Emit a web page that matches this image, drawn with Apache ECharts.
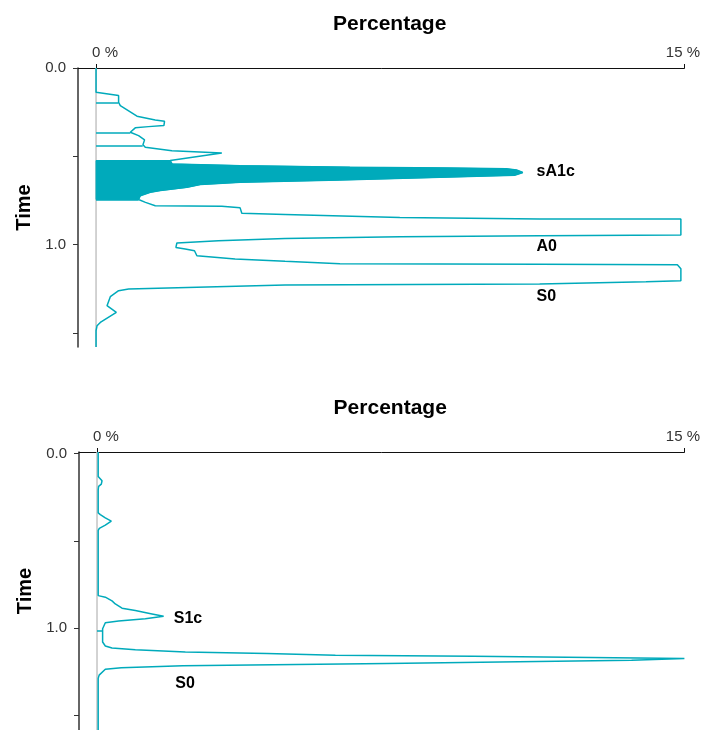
<!DOCTYPE html>
<html>
<head>
<meta charset="utf-8">
<title>Percentage by time</title>
<script src="https://cdn.jsdelivr.net/npm/echarts@6/dist/echarts.min.js"></script>
<style>
  html, body { margin: 0; padding: 0; background: #fff; }
  #chart { width: 703px; height: 730px; }
</style>
</head>
<body>
<div id="chart"></div>
<script>
// ---- values ----------------------------------------------------------
// Axis ticks
const pctTicks = [0, 15];
const pctTickLabels = ['0 %', '15 %'];
const timeTicks = [0, 0.5, 1.0, 1.5];
const timeLabelValues = [0, 1.0];

// Upper trace: [percentage, time]
const topTrace = [
  [0, 0], [0, 0.137], [0.575, 0.156], [0.575, 0.194], [0.618, 0.213],
  [1.044, 0.273], [1.509, 0.294], [1.746, 0.302], [1.730, 0.326], [1.339, 0.332],
  [1.000, 0.339], [0.873, 0.364], [1.084, 0.383], [1.237, 0.407], [1.196, 0.434],
  [1.190, 0.439], [1.255, 0.449], [1.934, 0.468], [3.207, 0.481], [1.891, 0.524],
  [1.940, 0.544], [3.673, 0.553], [6.473, 0.562], [9.018, 0.567], [10.46, 0.571],
  [10.72, 0.578], [10.88, 0.592], [10.67, 0.607], [8.760, 0.619], [6.218, 0.634],
  [3.673, 0.647], [2.655, 0.660], [2.316, 0.676], [1.637, 0.694], [1.382, 0.704],
  [1.128, 0.723], [1.084, 0.745], [1.260, 0.761], [1.509, 0.780], [3.207, 0.783],
  [3.673, 0.792], [3.716, 0.823], [4.818, 0.830], [7.745, 0.846], [11.31, 0.855],
  [14.91, 0.855], [14.91, 0.946], [11.31, 0.950], [7.745, 0.955], [4.818, 0.965],
  [3.120, 0.978], [2.061, 0.991], [2.036, 1.016], [2.273, 1.025], [2.510, 1.035],
  [2.571, 1.063], [3.545, 1.082], [4.818, 1.095], [6.218, 1.108], [11.31, 1.112],
  [14.82, 1.114], [14.91, 1.137], [14.91, 1.205], [14.02, 1.210], [11.31, 1.223],
  [4.818, 1.229], [0.830, 1.252], [0.575, 1.261], [0.364, 1.295], [0.280, 1.346],
  [0.517, 1.384], [0.109, 1.441], [0.025, 1.460], [0, 1.488], [0, 1.58]
];
const sA1cWindow = [0.524, 0.745];            // filled sA1c region (time)
const topDropTimes = [0.194, 0.364, 0.439, 0.524, 0.745];
const topPeakNames = ['sA1c', 'A0', 'S0'];

// Lower trace: [percentage, time]
const bottomTrace = [
  [0.03, -0.01], [0.03, 0.130], [0.128, 0.155], [0.110, 0.174], [0.041, 0.187],
  [0.03, 0.206], [0.03, 0.339], [0.084, 0.349], [0.212, 0.368], [0.365, 0.387],
  [0.212, 0.410], [0.059, 0.428], [0.03, 0.440], [0.03, 0.814], [0.212, 0.823],
  [0.383, 0.844], [0.467, 0.862], [0.639, 0.886], [0.978, 0.900], [1.405, 0.919],
  [1.701, 0.932], [1.234, 0.947], [0.552, 0.960], [0.212, 0.970], [0.143, 1.004],
  [0.143, 1.080], [0.212, 1.103], [0.383, 1.114], [0.978, 1.125], [2.255, 1.137],
  [4.340, 1.146], [6.087, 1.156], [9.610, 1.162], [15.0, 1.175], [13.65, 1.185],
  [7.400, 1.203], [2.190, 1.217], [0.620, 1.228], [0.212, 1.236], [0.054, 1.270],
  [0.03, 1.289], [0.03, 1.60]
];
const bottomDropTimes = [1.014];
const bottomPeakNames = ['S1c', 'S0'];

// ---- styling / layout -------------------------------------------------
const TEAL = '#00aabb';
const FONT = '"Liberation Sans", Arial, Helvetica, sans-serif';
const PCT_MIN = -0.46, PCT_MAX = 15;

// where each peak name sits, as [percentage, time]
const topLabelAnchors = [[11.23, 0.584], [11.23, 1.011], [11.23, 1.295]];
const bottomLabelAnchors = [[1.96, 0.945], [2.0, 1.317]];

const panels = [
  { left: 78, top: 68, width: 607, height: 279, tMin: 0, tMax: 1.58 },
  { left: 79, top: 452, width: 606, height: 280, tMin: -0.01, tMax: 1.585 }
];

// percentage on the trace at a given time (linear between samples)
function pctAt(trace, t) {
  for (let i = 1; i < trace.length; i++) {
    const [p0, t0] = trace[i - 1], [p1, t1] = trace[i];
    if (t >= t0 && t <= t1) {
      return t1 === t0 ? p1 : p0 + (p1 - p0) * (t - t0) / (t1 - t0);
    }
  }
  return 0;
}

function dropLines(trace, times) {
  return times.map(t => [{ coord: [0, t] }, { coord: [pctAt(trace, t), t] }]);
}

function xAxisFor(g) {
  return {
    type: 'value', gridIndex: g, position: 'top', min: PCT_MIN, max: PCT_MAX,
    name: 'Percentage', nameLocation: 'middle', nameGap: 33,
    nameTextStyle: { fontFamily: FONT, fontWeight: 'bold', fontSize: 21, color: '#000', padding: [0, 0, 0, 17] },
    axisLine: { show: true, onZero: false, lineStyle: { color: '#111', width: 1 } },
    axisTick: { show: true, customValues: pctTicks, length: 4, lineStyle: { color: '#111', width: 1 } },
    axisLabel: {
      customValues: pctTicks, margin: 8,
      formatter: v => v === pctTicks[0] ? '{z|' + pctTickLabels[0] + '}' : '{f|' + pctTickLabels[1] + '}',
      rich: {
        z: { fontFamily: FONT, fontSize: 15, color: '#333', padding: [0, 0, 0, 18] },
        f: { fontFamily: FONT, fontSize: 15, color: '#333', padding: [0, 3, 0, 0] }
      }
    },
    splitLine: { show: false }
  };
}

function yAxisFor(g) {
  const p = panels[g];
  return {
    type: 'value', gridIndex: g, inverse: true, min: p.tMin, max: p.tMax,
    name: 'Time', nameLocation: 'middle', nameGap: 43, nameRotate: 90,
    nameTextStyle: { fontFamily: FONT, fontWeight: 'bold', fontSize: 20, color: '#000' },
    axisLine: { show: true, onZero: false, lineStyle: { color: '#333', width: 1.5 } },
    axisTick: { show: true, customValues: timeTicks, length: 5, lineStyle: { color: '#333', width: 1 } },
    axisLabel: {
      customValues: timeLabelValues, margin: 12,
      formatter: v => v.toFixed(1),
      fontFamily: FONT, fontSize: 15, color: '#333'
    },
    splitLine: { show: false }
  };
}

function baselineSeries(g) {
  const p = panels[g];
  return {
    type: 'line', xAxisIndex: g, yAxisIndex: g, z: 1, silent: true,
    symbol: 'none', data: [[0, p.tMin], [0, p.tMax]],
    lineStyle: { color: '#c4c4c4', width: 1.5 }
  };
}

function traceSeries(g, trace, drops) {
  return {
    type: 'line', xAxisIndex: g, yAxisIndex: g, z: 3, silent: true,
    symbol: 'none', showSymbol: false, data: trace,
    lineStyle: { color: TEAL, width: 1.5 },
    markLine: {
      silent: true, symbol: 'none', label: { show: false },
      lineStyle: { color: TEAL, width: 1.5, type: 'solid' },
      data: dropLines(trace, drops)
    }
  };
}

function peakLabelSeries(g, names, anchors) {
  return {
    type: 'scatter', xAxisIndex: g, yAxisIndex: g, z: 4, silent: true,
    symbolSize: 0,
    itemStyle: { opacity: 1 },
    data: names.map((n, i) => ({ name: n, value: anchors[i] })),
    label: {
      show: true, position: 'right', distance: 0, formatter: '{b}',
      fontFamily: FONT, fontWeight: 'bold', fontSize: 16, color: '#000'
    }
  };
}

const fillPoints = topTrace.filter(d => d[1] >= sA1cWindow[0] && d[1] <= sA1cWindow[1]);

const option = {
  animation: false,
  backgroundColor: '#fff',
  grid: panels.map(p => ({ left: p.left, top: p.top, width: p.width, height: p.height, containLabel: false })),
  xAxis: [xAxisFor(0), xAxisFor(1)],
  yAxis: [yAxisFor(0), yAxisFor(1)],
  series: [
    baselineSeries(0),
    baselineSeries(1),
    {
      type: 'custom', xAxisIndex: 0, yAxisIndex: 0, z: 2, silent: true,
      data: fillPoints,
      encode: { x: 0, y: 1 },
      renderItem: function (params, api) {
        if (params.dataIndex !== 0) return;
        const pts = [api.coord([0, fillPoints[0][1]])];
        fillPoints.forEach(d => pts.push(api.coord(d)));
        pts.push(api.coord([0, fillPoints[fillPoints.length - 1][1]]));
        return { type: 'polygon', shape: { points: pts }, style: { fill: TEAL, stroke: TEAL, lineWidth: 1 } };
      }
    },
    traceSeries(0, topTrace, topDropTimes),
    traceSeries(1, bottomTrace, bottomDropTimes),
    peakLabelSeries(0, topPeakNames, topLabelAnchors),
    peakLabelSeries(1, bottomPeakNames, bottomLabelAnchors)
  ]
};

const chart = echarts.init(document.getElementById('chart'), null, { renderer: 'canvas' });
chart.setOption(option);
</script>
</body>
</html>
